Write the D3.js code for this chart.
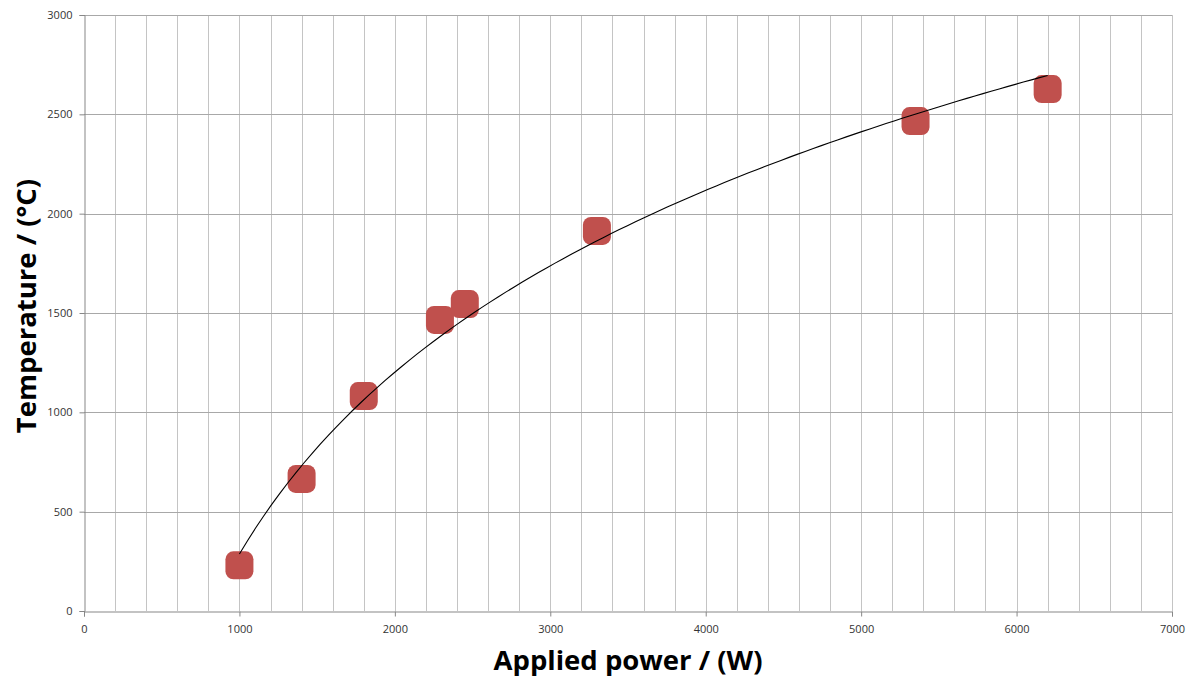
<!DOCTYPE html>
<html>
<head>
<meta charset="utf-8">
<script src="https://cdn.jsdelivr.net/npm/d3@7"></script>
<style>
  body { margin: 0; background: #fff; }
  .tick text { font-family: "Open Sans", "DejaVu Sans", sans-serif; font-size: 11px; fill: #333; }
  .title { font-family: "Open Sans", "DejaVu Sans", sans-serif; font-weight: bold; font-size: 27.5px; fill: #000; }
</style>
</head>
<body>
<div id="chart"></div>
<script>
// data
var power = [1000, 1400, 1800, 2290, 2450, 3300, 5350, 6200];
var temperature = [230, 665, 1082, 1465, 1545, 1913, 2466, 2627];
var xTicks = [0, 1000, 2000, 3000, 4000, 5000, 6000, 7000];
var yTicks = [0, 500, 1000, 1500, 2000, 2500, 3000];

var width = 1192, height = 678;
var margin = {top: 15, right: 20, bottom: 67, left: 84};
var visWidth = width - margin.left - margin.right;
var visHeight = height - margin.top - margin.bottom;

var xscale = d3.scaleLinear().domain([0, 7000]).range([0, visWidth]);
var yscale = d3.scaleLinear().domain([0, 3000]).range([visHeight, 0]);

var svg = d3.select("#chart").append("svg")
    .attr("width", width)
    .attr("height", height);

var g = svg.append("g")
    .attr("transform", `translate(${margin.left}, ${margin.top})`);

// vertical grid every 200
g.append("g")
  .selectAll("line")
  .data(d3.range(200, 7001, 200))
  .join("line")
    .attr("x1", d => Math.round(xscale(d)) + 0.5)
    .attr("x2", d => Math.round(xscale(d)) + 0.5)
    .attr("y1", 0)
    .attr("y2", visHeight)
    .attr("stroke", "#c4c4c4")
    .attr("stroke-width", 1);

// horizontal grid
g.append("g")
  .selectAll("line")
  .data(yTicks.slice(1))
  .join("line")
    .attr("x1", 0)
    .attr("x2", visWidth)
    .attr("y1", d => Math.round(yscale(d)) + 0.5)
    .attr("y2", d => Math.round(yscale(d)) + 0.5)
    .attr("stroke", "#a8a8a8")
    .attr("stroke-width", 1);

// axes
var yAxis = g.append("g")
    .attr("transform", "translate(0.5,0)")
    .call(d3.axisLeft(yscale).tickValues(yTicks).tickSize(5).tickPadding(7).tickFormat(d => d));
var xAxis = g.append("g")
    .attr("transform", `translate(0,${Math.round(visHeight) + 0.5})`)
    .call(d3.axisBottom(xscale).tickValues(xTicks).tickSize(5).tickPadding(9).tickFormat(d => d));
[xAxis, yAxis].forEach(function(a) {
  a.select(".domain").attr("stroke", "#878787");
  a.selectAll(".tick line").attr("stroke", "#878787");
});

// logarithmic trend line fitted to the points (least squares on ln x)
var lx = power.map(Math.log);
var mx = d3.mean(lx), my = d3.mean(temperature);
var sxy = d3.sum(lx, (v, i) => (v - mx) * (temperature[i] - my));
var sxx = d3.sum(lx, v => (v - mx) * (v - mx));
var slope = sxy / sxx, intercept = my - slope * mx;
var xmin = d3.min(power), xmax = d3.max(power);
var trend = d3.range(0, 101).map(i => {
  var p = xmin + (xmax - xmin) * i / 100;
  return [p, slope * Math.log(p) + intercept];
});

// markers
var size = 28;
g.selectAll("rect.pt")
  .data(power)
  .join("rect")
    .attr("class", "pt")
    .attr("x", (d, i) => xscale(d) - size / 2)
    .attr("y", (d, i) => yscale(temperature[i]) - size / 2)
    .attr("width", size)
    .attr("height", size)
    .attr("rx", 8)
    .attr("ry", 8)
    .style("fill", "#c0504d");

g.append("path")
    .datum(trend)
    .attr("fill", "none")
    .attr("stroke", "#000")
    .attr("stroke-width", 1.1)
    .attr("d", d3.line().x(d => xscale(d[0])).y(d => yscale(d[1])));

// axis titles
svg.append("text")
    .attr("class", "title")
    .attr("x", 628)
    .attr("y", 670)
    .attr("text-anchor", "middle")
    .text("Applied power / (W)");

svg.append("text")
    .attr("class", "title")
    .attr("transform", "translate(36,306) rotate(-90)")
    .attr("text-anchor", "middle")
    .text("Temperature / (°C)");
</script>
</body>
</html>
